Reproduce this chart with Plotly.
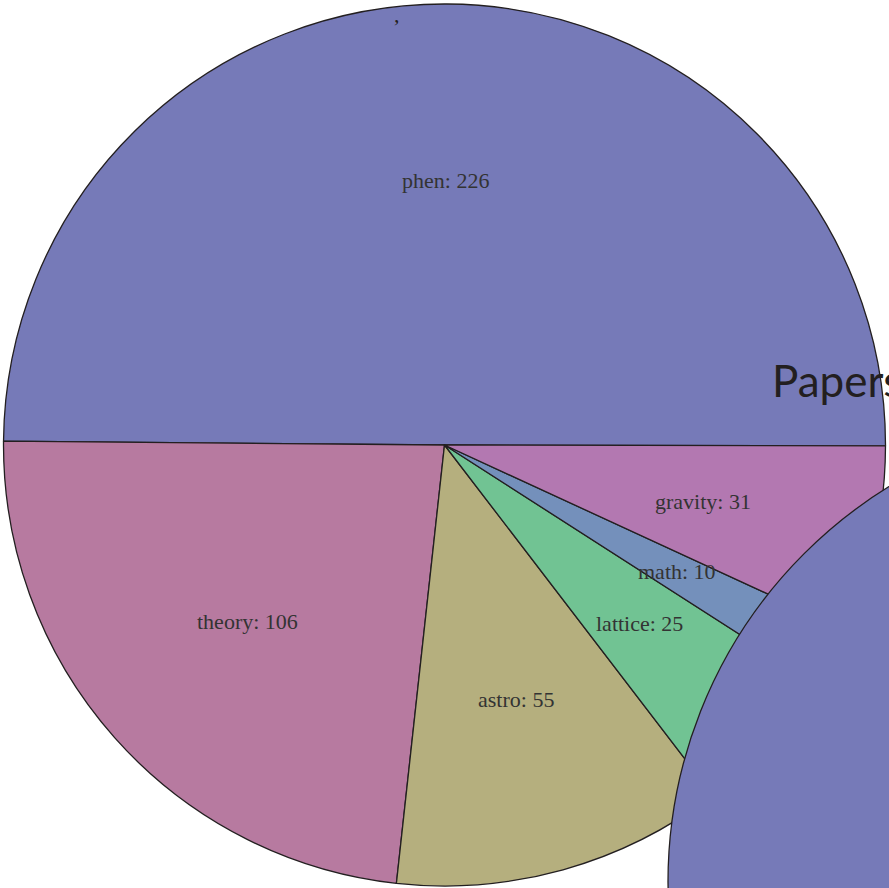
import math
import plotly.graph_objects as go

# ---- data ----
categories = ["phen", "theory", "astro", "lattice", "math", "gravity"]
paper_counts = [226, 106, 55, 25, 10, 31]
slice_colors = ["#767ab8", "#b77aa0", "#b5af7e", "#71c393", "#7490bb", "#b378b1"]
second_labels = ["Papers"]
second_values = [1]
second_colors = ["#767ab8"]
title_text = "Papers"

# ---- layout constants (pixels) ----
W, H = 1600, 1400
C1X, C1Y, R1 = 444.5, 445.0, 441.0
C2X, C2Y, R2 = 1132.0, 882.0, 464.0
LABEL_FRAC = 0.6
PIE_ROTATION = -89.5
START_DEG = 0.0  # resulting start angle of first slice (math convention)


def dom(cx, cy, r):
    return dict(x=[(cx - r) / W, (cx + r) / W],
                y=[(H - (cy + r)) / H, (H - (cy - r)) / H])


fig = go.Figure()
fig.add_trace(go.Pie(
    labels=categories, values=paper_counts, sort=False,
    direction="counterclockwise", rotation=PIE_ROTATION,
    marker=dict(colors=slice_colors, line=dict(color="#231f20", width=1.3)),
    textinfo="none", hoverinfo="label+value", domain=dom(C1X, C1Y, R1),
    showlegend=False,
))
fig.add_trace(go.Pie(
    labels=second_labels, values=second_values, sort=False,
    marker=dict(colors=second_colors, line=dict(color="#231f20", width=1.3)),
    textinfo="none", hoverinfo="label+value", domain=dom(C2X, C2Y, R2),
    showlegend=False,
))

# slice labels at the mid-angle of each slice
total = sum(paper_counts)
cum = 0
annotations = []
for cat, v in zip(categories, paper_counts):
    mid = math.radians(START_DEG) + (cum + v / 2) / total * 2 * math.pi
    cum += v
    px = C1X + LABEL_FRAC * R1 * math.cos(mid)
    py = C1Y - LABEL_FRAC * R1 * math.sin(mid)
    annotations.append(dict(
        x=px / W, y=(H - py) / H, xref="paper", yref="paper",
        text=f"{cat}: {v}", showarrow=False, xanchor="center", yanchor="middle",
        font=dict(family="Liberation Serif", size=22, color="#333333"),
    ))

annotations.append(dict(
    x=397 / W, y=(H - 14) / H, xref="paper", yref="paper", text=",",
    showarrow=False, xanchor="center", yanchor="middle",
    font=dict(family="Liberation Serif", size=22, color="#231f20"),
))
annotations.append(dict(
    x=770 / W, y=(H - 380) / H, xref="paper", yref="paper", text=title_text,
    showarrow=False, xanchor="left", yanchor="middle",
    font=dict(family="Lato", size=44, color="#231f20"),
))

fig.update_layout(
    width=W, height=H, margin=dict(l=0, r=0, t=0, b=0),
    paper_bgcolor="white", plot_bgcolor="white",
    annotations=annotations, showlegend=False,
)

fig.write_html("out.html",
               post_script="document.body.style.margin='0';document.body.style.overflow='hidden';")
